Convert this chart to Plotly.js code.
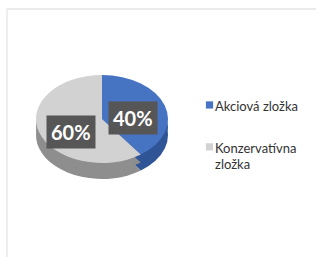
<!DOCTYPE html>
<html>
<head>
<meta charset="utf-8">
<script src="https://cdn.plot.ly/plotly-3.0.1.min.js"></script>
<style>
  html, body { margin: 0; padding: 0; background: #ffffff; }
  #chart { width: 316px; height: 257px; }
</style>
</head>
<body>
<div id="chart"></div>
<script>
// ---- data ----
const categories = ['Akciová zložka', 'Konzervatívna zložka'];
const legendLabels = ['Akciová zložka', 'Konzervatívna<br>zložka'];
const values = [40, 60];
const topColors = ['#4673c2', '#d2d2d2'];
const sideColors = ['#2f5597', '#8e8e8e'];

// ---- geometry (layout) ----
const W = 316, H = 257;
const cx = 102, cy = 119, R = 66;   // centre / radius of the pie before tilting
const k = 44 / 66;                  // vertical squash for the tilted look
const depth = 16;                   // thickness of the 3D side
const legendTextLeft = 215;         // where legend labels start
const legendMarkX = 209.5;          // legend swatch centre
const legendItemExtra = 22;         // extra gap between legend entries

const domain = {
  x: [(cx - R) / W, (cx + R) / W],
  y: [1 - (cy + R) / H, 1 - (cy - R) / H]
};

function pieTrace(colors, showlegend, name) {
  return {
    type: 'pie',
    name: name,
    labels: legendLabels,
    values: values,
    sort: false,
    direction: 'clockwise',
    rotation: 0,
    domain: domain,
    marker: { colors: colors, line: { width: 0 } },
    textinfo: 'none',
    hoverinfo: 'label+percent',
    showlegend: showlegend
  };
}

const data = [
  pieTrace(sideColors, false, 'side-bottom'),
  pieTrace(sideColors, false, 'side-mid'),
  pieTrace(topColors, true, 'top')
];

// percentage labels placed at each slice's mid angle
const total = values.reduce((a, b) => a + b, 0);
let cum = 0;
const annotations = values.map((v) => {
  const mid = (cum + v / 2) / total * 2 * Math.PI;
  cum += v;
  const f = 0.5;
  const px = cx + f * R * Math.sin(mid);
  const py = cy - f * R * k * Math.cos(mid) + 6;
  return {
    xref: 'paper', yref: 'paper',
    x: px / W, y: 1 - py / H,
    xanchor: 'center', yanchor: 'middle',
    text: '<b>' + Math.round(v / total * 100) + '%</b>',
    showarrow: false,
    font: { family: 'Lato, "Open Sans", sans-serif', size: 20, color: '#ffffff' },
    bgcolor: '#565656',
    borderpad: 4
  };
});

const layout = {
  width: W, height: H,
  margin: { l: 0, r: 0, t: 0, b: 0 },
  paper_bgcolor: '#ffffff',
  showlegend: true,
  legend: {
    x: 177 / W, xanchor: 'left',
    y: 1 - 91 / H, yanchor: 'top',
    valign: 'top',
    font: { family: 'Lato, "Open Sans", sans-serif', size: 13, color: '#333333' },
    bgcolor: 'rgba(0,0,0,0)'
  },
  annotations: annotations,
  shapes: [
    { type: 'line', xref: 'paper', yref: 'paper', x0: 7 / W, x1: 1, y0: 1 - 9 / H, y1: 1 - 9 / H,
      line: { color: '#e4e4e4', width: 1.5 } },
    { type: 'line', xref: 'paper', yref: 'paper', x0: 7 / W, x1: 7 / W, y0: 0, y1: 1 - 9 / H,
      line: { color: '#e8e8e8', width: 1.5 } }
  ]
};

Plotly.newPlot('chart', data, layout, { displayModeBar: false, staticPlot: true }).then((gd) => {
  // tilt the pies into ellipses and drop the side copies to build the 3D thickness
  const offsets = [depth, depth / 2, 0];
  gd.querySelectorAll('.pielayer .trace').forEach((g, i) => {
    const dy = offsets[i] || 0;
    g.setAttribute('transform',
      'translate(0,' + (cy + dy) + ') scale(1,' + k + ') translate(0,' + (-cy) + ')');
  });
  // legend: wider spacing, smaller swatches placed right beside the labels
  const sb = gd.querySelector('.legend .scrollbox');
  if (sb) sb.removeAttribute('clip-path');
  const gdRect = gd.getBoundingClientRect();
  const items = gd.querySelectorAll('.legend .traces');
  items.forEach((it, i) => {
    const txt = it.querySelector('text.legendtext');
    txt.querySelectorAll('tspan.line').forEach((ts, j) => {
      if (j > 0) ts.setAttribute('dy', '16');
    });
    const t = it.getAttribute('transform') || '';
    const m = t.match(/translate\(([-\d.]+)[ ,]+([-\d.]+)\)/);
    let x = m ? parseFloat(m[1]) : 0, y = m ? parseFloat(m[2]) : 0;
    const tr = txt.getBoundingClientRect();
    x += legendTextLeft - (tr.left - gdRect.left);
    y += i * legendItemExtra;
    it.setAttribute('transform', 'translate(' + x + ',' + y + ')');
    const p = it.querySelector('.legendpoints path');
    if (p) {
      let tx = 20;
      p.setAttribute('transform', 'translate(' + tx + ',0) scale(0.6)');
      const pr = p.getBoundingClientRect();
      tx += legendMarkX - ((pr.left + pr.right) / 2 - gdRect.left);
      p.setAttribute('transform', 'translate(' + tx + ',-1) scale(0.6)');
    }
  });
});
</script>
</body>
</html>
